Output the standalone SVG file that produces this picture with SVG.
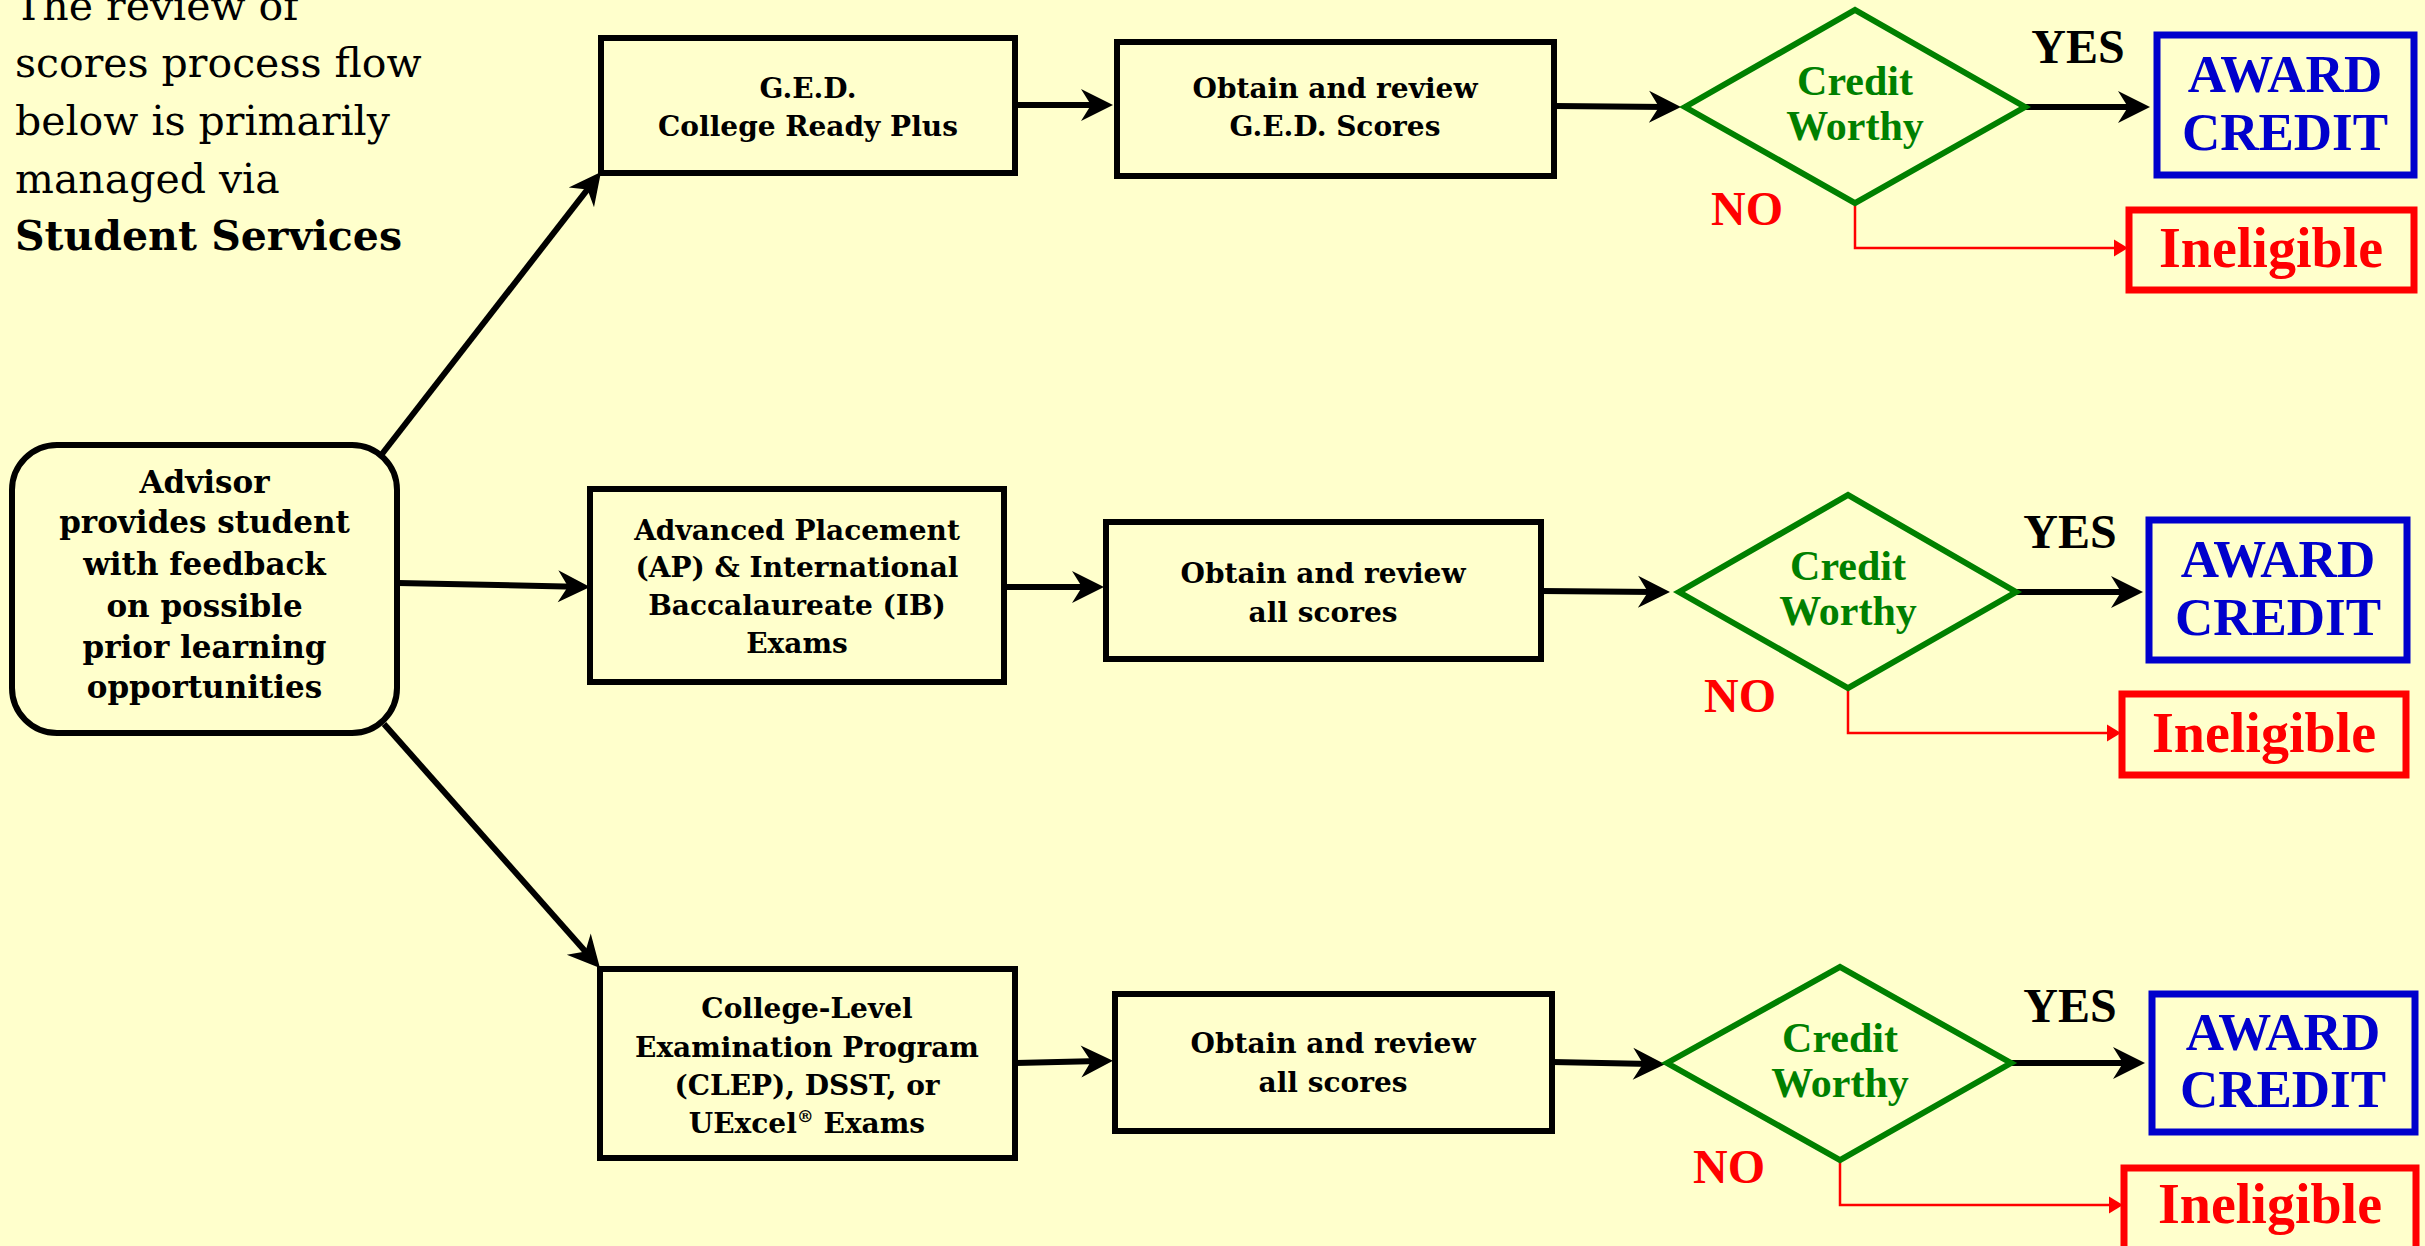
<svg xmlns="http://www.w3.org/2000/svg" width="2425" height="1246" viewBox="0 0 2425 1246">
<defs>
<style>
.bg{fill:#FFFFCC}
.box{fill:none;stroke:#000;stroke-width:6}
.adv{fill:none;stroke:#000;stroke-width:6}
.dia{fill:none;stroke:#008000;stroke-width:6;stroke-linejoin:miter}
.award{fill:none;stroke:#0000CC;stroke-width:7}
.inel{fill:none;stroke:#FF0000;stroke-width:7}
.c{fill:none;stroke:#000;stroke-width:6}
.cr{fill:none;stroke:#FF0000;stroke-width:2.5}
.intro{font-family:"DejaVu Serif",Georgia,serif;font-size:41px;fill:#000}
.bt{font-family:"DejaVu Serif",Georgia,serif;font-weight:bold;font-size:28px;fill:#000;text-anchor:middle}
.at{font-family:"DejaVu Serif",Georgia,serif;font-weight:bold;font-size:31px;fill:#000;text-anchor:middle}
.cw{font-family:"Liberation Serif","Times New Roman",serif;font-weight:bold;font-size:42px;fill:#008000;text-anchor:middle}
.yes{font-family:"Liberation Serif","Times New Roman",serif;font-weight:bold;font-size:48px;fill:#000;text-anchor:middle}
.no{font-family:"Liberation Serif","Times New Roman",serif;font-weight:bold;font-size:48px;fill:#FF0000;text-anchor:middle}
.aw{font-family:"Liberation Serif","Times New Roman",serif;font-weight:bold;font-size:53px;fill:#0000CC;text-anchor:middle}
.ie{font-family:"Liberation Serif","Times New Roman",serif;font-weight:bold;font-size:56px;fill:#FF0000;text-anchor:middle}
</style>
<marker id="ah" markerUnits="userSpaceOnUse" viewBox="-34 -17 34 34" markerWidth="34" markerHeight="34" refX="-14" refY="0" orient="auto">
<path d="M0,0 L-32,-16 L-22,0 L-32,16 Z" fill="#000"/>
</marker>
<marker id="ahr" markerUnits="userSpaceOnUse" viewBox="-16 -10 16 20" markerWidth="16" markerHeight="20" refX="-4" refY="0" orient="auto">
<path d="M0,0 L-14,-8.5 L-14,8.5 Z" fill="#FF0000"/>
</marker>
</defs>
<rect class="bg" x="0" y="0" width="2425" height="1246"/>

<g id="intro">
<text class="intro" x="15" y="20">The review of</text>
<text class="intro" x="15" y="77">scores process flow</text>
<text class="intro" x="15" y="135">below is primarily</text>
<text class="intro" x="15" y="193">managed via</text>
<text class="intro" x="15" y="250" font-weight="bold">Student Services</text>
</g>

<g id="connectors">
<line class="c" x1="382" y1="454" x2="592.4" y2="183.1" marker-end="url(#ah)"/>
<line class="c" x1="398" y1="583" x2="576" y2="586.7" marker-end="url(#ah)"/>
<line class="c" x1="384" y1="724" x2="590.7" y2="957.5" marker-end="url(#ah)"/>

<line class="c" x1="1015" y1="105" x2="1099" y2="105" marker-end="url(#ah)"/>
<line class="c" x1="1554" y1="106" x2="1667" y2="107" marker-end="url(#ah)"/>
<line class="c" x1="2025" y1="107" x2="2136" y2="107" marker-end="url(#ah)"/>
<path class="cr" d="M1855,203 V248 H2124" marker-end="url(#ahr)"/>

<line class="c" x1="1004" y1="587" x2="1090" y2="587" marker-end="url(#ah)"/>
<line class="c" x1="1541" y1="591" x2="1656" y2="592" marker-end="url(#ah)"/>
<line class="c" x1="2016" y1="592" x2="2129" y2="592" marker-end="url(#ah)"/>
<path class="cr" d="M1848,688 V733 H2117" marker-end="url(#ahr)"/>

<line class="c" x1="1015" y1="1063" x2="1099" y2="1061" marker-end="url(#ah)"/>
<line class="c" x1="1552" y1="1062" x2="1651" y2="1064" marker-end="url(#ah)"/>
<line class="c" x1="2011" y1="1063" x2="2131" y2="1063" marker-end="url(#ah)"/>
<path class="cr" d="M1840,1160 V1205 H2119" marker-end="url(#ahr)"/>
</g>

<g id="advisor">
<rect class="adv" x="12" y="445" width="385" height="288" rx="45" ry="45"/>
<text class="at" x="204.5" y="493">Advisor</text>
<text class="at" x="204.5" y="533">provides student</text>
<text class="at" x="204.5" y="575">with feedback</text>
<text class="at" x="204.5" y="617">on possible</text>
<text class="at" x="204.5" y="658">prior learning</text>
<text class="at" x="204.5" y="698">opportunities</text>
</g>

<g id="ged">
<rect class="box" x="601" y="38" width="414" height="135"/>
<text class="bt" x="808" y="98">G.E.D.</text>
<text class="bt" x="808" y="136">College Ready Plus</text>
</g>
<g id="obtain1">
<rect class="box" x="1117" y="42" width="437" height="134"/>
<text class="bt" x="1335" y="98">Obtain and review</text>
<text class="bt" x="1335" y="136">G.E.D. Scores</text>
</g>
<g id="decision1">
<polygon class="dia" points="1685,107 1855,10 2025,107 1855,203"/>
<text class="cw" x="1855" y="95">Credit</text>
<text class="cw" x="1855" y="140">Worthy</text>
</g>
<g id="yes1"><text class="yes" x="2078" y="63">YES</text></g>
<g id="no1"><text class="no" x="1747" y="225">NO</text></g>
<g id="award1">
<rect class="award" x="2157" y="35" width="257" height="140"/>
<text class="aw" x="2285" y="92">AWARD</text>
<text class="aw" x="2285" y="150">CREDIT</text>
</g>
<g id="inel1">
<rect class="inel" x="2129" y="210" width="285" height="80"/>
<text class="ie" x="2271" y="267">Ineligible</text>
</g>

<g id="ap">
<rect class="box" x="590" y="489" width="414" height="193"/>
<text class="bt" x="797" y="540">Advanced Placement</text>
<text class="bt" x="797" y="577">(AP) &amp; International</text>
<text class="bt" x="797" y="615">Baccalaureate (IB)</text>
<text class="bt" x="797" y="653">Exams</text>
</g>
<g id="obtain2">
<rect class="box" x="1106" y="522" width="435" height="137"/>
<text class="bt" x="1323" y="583">Obtain and review</text>
<text class="bt" x="1323" y="622">all scores</text>
</g>
<g id="decision2">
<polygon class="dia" points="1679,592 1848,495 2016,592 1848,688"/>
<text class="cw" x="1848" y="580">Credit</text>
<text class="cw" x="1848" y="625">Worthy</text>
</g>
<g id="yes2"><text class="yes" x="2070" y="548">YES</text></g>
<g id="no2"><text class="no" x="1740" y="712">NO</text></g>
<g id="award2">
<rect class="award" x="2149" y="520" width="258" height="140"/>
<text class="aw" x="2278" y="577">AWARD</text>
<text class="aw" x="2278" y="635">CREDIT</text>
</g>
<g id="inel2">
<rect class="inel" x="2122" y="694" width="284" height="81"/>
<text class="ie" x="2264" y="752">Ineligible</text>
</g>

<g id="clep">
<rect class="box" x="600" y="969" width="415" height="189"/>
<text class="bt" x="807" y="1018">College-Level</text>
<text class="bt" x="807" y="1057">Examination Program</text>
<text class="bt" x="807" y="1095">(CLEP), DSST, or</text>
<text class="bt" x="807" y="1133">UExcel<tspan font-size="17" dy="-11">®</tspan><tspan dy="11"> Exams</tspan></text>
</g>
<g id="obtain3">
<rect class="box" x="1115" y="994" width="437" height="137"/>
<text class="bt" x="1333" y="1053">Obtain and review</text>
<text class="bt" x="1333" y="1092">all scores</text>
</g>
<g id="decision3">
<polygon class="dia" points="1667,1063 1840,967 2011,1063 1840,1160"/>
<text class="cw" x="1840" y="1052">Credit</text>
<text class="cw" x="1840" y="1097">Worthy</text>
</g>
<g id="yes3"><text class="yes" x="2070" y="1022">YES</text></g>
<g id="no3"><text class="no" x="1729" y="1183">NO</text></g>
<g id="award3">
<rect class="award" x="2152" y="994" width="263" height="138"/>
<text class="aw" x="2283" y="1050">AWARD</text>
<text class="aw" x="2283" y="1107">CREDIT</text>
</g>
<g id="inel3">
<rect class="inel" x="2124" y="1168" width="292" height="100"/>
<text class="ie" x="2270" y="1223">Ineligible</text>
</g>
</svg>
